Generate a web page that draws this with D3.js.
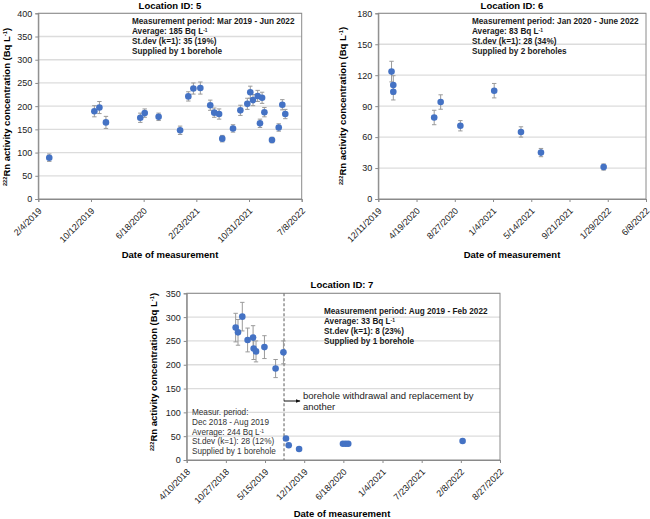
<!DOCTYPE html>
<html>
<head>
<meta charset="utf-8">
<script src="https://cdn.jsdelivr.net/npm/d3@7"></script>
<style>
  body { margin: 0; background: #fff; }
  svg { font-family: "Liberation Sans", Arial, sans-serif; }
</style>
</head>
<body>
<svg id="chart" width="650" height="519"></svg>
<script>
// Location ID: 5
const loc5Dates = ["2019-03-28","2019-10-28","2019-11-21","2019-12-22","2020-06-02","2020-06-23","2020-08-28",
  "2020-12-08","2021-01-16","2021-02-09","2021-03-14","2021-04-30","2021-05-19","2021-06-11","2021-06-26",
  "2021-08-16","2021-09-20","2021-10-23","2021-11-06","2021-11-19","2021-12-11","2021-12-22","2022-01-01",
  "2022-01-12","2022-02-17","2022-03-21","2022-04-07","2022-04-21"];
const loc5Values = [89,189,197,165,175,185,177,148,221,238,239,202,186,183,130,152,191,205,230,213,222,163,218,187,127,154,203,183];
const loc5Errors = [8,12,13,13,10,9,8,9,10,12,13,11,10,11,7,8,11,12,13,12,12,9,12,10,6,8,11,10];
const loc5XTicks = ["2/4/2019","10/12/2019","6/18/2020","2/23/2021","10/31/2021","7/8/2022"];
const loc5YTicks = [0,50,100,150,200,250,300,350,400];
const loc5Notes = ["Measurement period: Mar 2019 - Jun 2022","Average: 185 Bq L","St.dev (k=1): 35 (19%)","Supplied by 1 borehole"];

// Location ID: 6
const loc6Dates = ["2020-01-25","2020-01-31","2020-01-31","2020-06-18","2020-07-10","2020-09-15","2021-01-08","2021-04-09","2021-06-16","2022-01-15"];
const loc6Values = [123.5,110.5,104,79,94,71,105,65,45,31];
const loc6Errors = [10,9,8,7,7,5,7,5,4,3];
const loc6XTicks = ["12/11/2019","4/19/2020","8/27/2020","1/4/2021","5/14/2021","9/21/2021","1/29/2022","6/8/2022"];
const loc6YTicks = [0,30,60,90,120,150,180];
const loc6Notes = ["Measurement period: Jan 2020 - June 2022","Average: 83 Bq L","St.dev (k=1): 28 (34%)","Supplied by 2 boreholes"];

// Location ID: 7
const loc7Dates = ["2018-12-16","2018-12-28","2019-01-19","2019-02-15","2019-03-15","2019-03-18","2019-03-30","2019-05-12",
  "2019-07-08","2019-08-17","2019-08-30","2019-09-13","2019-11-05","2020-06-16","2020-06-30","2020-07-13","2022-02-17"];
const loc7Values = [278,268,301,252,257,234,228,237,192,226,45,31,23,34,34,34,40];
const loc7Errors = [30,27,30,25,25,23,22,24,19,24,0,0,0,0,0,0,0];
const loc7XTicks = ["4/10/2018","10/27/2018","5/15/2019","12/1/2019","6/18/2020","1/4/2021","7/23/2021","2/8/2022","8/27/2022"];
const loc7YTicks = [0,50,100,150,200,250,300,350];
const loc7Break = "2019-08-20";
const loc7Notes = ["Measurement period: Aug 2019 - Feb 2022","Average: 33 Bq L","St.dev (k=1): 8 (23%)","Supplied by 1 borehole"];
const loc7OldNotes = ["Measur. period:","Dec 2018 - Aug 2019","Average: 244 Bq L","St.dev (k=1): 28 (12%)","Supplied by 1 borehole"];
const loc7Arrow = ["borehole withdrawal and replacement by","another"];

const parseDate = d3.utcParse("%Y-%m-%d");
const parseTick = d3.utcParse("%m/%d/%Y");
const svg = d3.select("#chart");

svg.append("defs").append("marker")
  .attr("id", "arrow").attr("viewBox", "0 0 10 10")
  .attr("refX", 9).attr("refY", 5)
  .attr("markerWidth", 5).attr("markerHeight", 5)
  .attr("orient", "auto")
  .append("path").attr("d", "M0,1 L10,5 L0,9 Z").attr("fill", "#111");

// adds a superscript to a text element when a line ends with "Bq L"
function writeLine(sel, str) {
  sel.append("tspan").text(str);
  if (str.endsWith("Bq L")) {
    sel.append("tspan").attr("baseline-shift", "super").attr("font-size", "0.6em").text("-1");
  }
}

function drawPanel(p) {
  const dates = p.dates.map(parseDate);
  const ticks = p.xTicks.map(parseTick);

  const x = d3.scaleUtc()
    .domain([ticks[0], ticks[ticks.length - 1]])
    .range([p.left, p.right]);
  const y = d3.scaleLinear()
    .domain([0, d3.max(p.yTicks)])
    .range([p.bottom, p.top]);

  const g = svg.append("g");

  // gridlines
  g.append("g").selectAll("line")
    .data(p.yTicks.slice(1))
    .join("line")
      .attr("x1", p.left).attr("x2", p.right)
      .attr("y1", d => y(d)).attr("y2", d => y(d))
      .attr("stroke", "#dcdcdc").attr("stroke-width", 1.3);

  // frame
  g.append("rect")
    .attr("x", p.left).attr("y", p.top)
    .attr("width", p.right - p.left).attr("height", p.bottom - p.top)
    .attr("fill", "none").attr("stroke", "#8a8a8a").attr("stroke-width", 1);

  // axes
  const yAxis = g.append("g")
    .attr("transform", `translate(${p.left},0)`)
    .call(d3.axisLeft(y).tickValues(p.yTicks).tickSize(3).tickPadding(3).tickFormat(d3.format("d")));
  yAxis.select(".domain").attr("stroke", "#8a8a8a");
  yAxis.selectAll(".tick line").attr("stroke", "#8a8a8a");
  yAxis.selectAll("text").attr("font-size", 9).attr("fill", "#222").attr("font-family", null);

  const fmt = d3.utcFormat("%-m/%-d/%Y");
  const xAxis = g.append("g")
    .attr("transform", `translate(0,${p.bottom})`)
    .call(d3.axisBottom(x).tickValues(ticks).tickSize(3).tickFormat(fmt));
  xAxis.select(".domain").attr("stroke", "#8a8a8a");
  xAxis.selectAll(".tick line").attr("stroke", "#8a8a8a");
  xAxis.selectAll("text")
    .attr("font-size", 9).attr("fill", "#222").attr("font-family", null)
    .attr("text-anchor", "end")
    .attr("transform", "translate(3.5,12.5) rotate(-45)")
    .attr("x", 0).attr("y", 0).attr("dy", 0);

  // titles
  g.append("text")
    .attr("x", p.titleX).attr("y", p.titleY)
    .attr("text-anchor", "middle").attr("font-size", 9.5).attr("font-weight", "bold")
    .text(p.title);

  g.append("text")
    .attr("x", p.titleX).attr("y", p.xTitleY)
    .attr("text-anchor", "middle").attr("font-size", 9.5).attr("font-weight", "bold")
    .text("Date of measurement");

  const yt = g.append("text")
    .attr("transform", `translate(${p.yTitleX},${p.yTitleY}) rotate(-90)`)
    .attr("text-anchor", "middle").attr("font-size", 9.5).attr("font-weight", "bold");
  yt.append("tspan").attr("baseline-shift", "super").attr("font-size", "0.6em").text("222");
  yt.append("tspan").text("Rn activity concentration (Bq L");
  yt.append("tspan").attr("baseline-shift", "super").attr("font-size", "0.6em").text("-1");
  yt.append("tspan").text(")");

  // break line and arrow
  if (p.breakDate) {
    const bx = x(parseDate(p.breakDate));
    g.append("line")
      .attr("x1", bx).attr("x2", bx).attr("y1", p.top).attr("y2", p.bottom)
      .attr("stroke", "#777").attr("stroke-width", 1.2).attr("stroke-dasharray", "3,2");
    g.append("line")
      .attr("x1", bx).attr("x2", bx + 16).attr("y1", p.arrowY).attr("y2", p.arrowY)
      .attr("stroke", "#111").attr("stroke-width", 1).attr("marker-end", "url(#arrow)");
    g.append("g").selectAll("text")
      .data(p.arrowText)
      .join("text")
        .attr("x", bx + 19).attr("y", (d, i) => p.arrowY - 2.5 + i * 11.5)
        .attr("font-size", 9.5).attr("fill", "#222")
        .text(d => d);
  }

  // error bars
  const pts = dates.map((d, i) => ({date: d, v: p.values[i], e: p.errors[i]}));
  const eb = g.append("g").attr("stroke", "#9a9a9a").attr("stroke-width", 1);
  const withErr = pts.filter(d => d.e > 0);
  eb.selectAll(".v").data(withErr).join("line")
    .attr("x1", d => x(d.date)).attr("x2", d => x(d.date))
    .attr("y1", d => y(d.v - d.e)).attr("y2", d => y(d.v + d.e));
  eb.selectAll(".c1").data(withErr).join("line")
    .attr("x1", d => x(d.date) - 2.2).attr("x2", d => x(d.date) + 2.2)
    .attr("y1", d => y(d.v + d.e)).attr("y2", d => y(d.v + d.e));
  eb.selectAll(".c2").data(withErr).join("line")
    .attr("x1", d => x(d.date) - 2.2).attr("x2", d => x(d.date) + 2.2)
    .attr("y1", d => y(d.v - d.e)).attr("y2", d => y(d.v - d.e));

  // points
  g.append("g").selectAll("circle")
    .data(pts)
    .join("circle")
      .attr("cx", d => x(d.date))
      .attr("cy", d => y(d.v))
      .attr("r", 3.3)
      .attr("fill", "#4472c4");

  // notes
  g.append("g").selectAll("text")
    .data(p.notes)
    .join("text")
      .attr("x", p.notesX).attr("y", (d, i) => p.notesY + i * 10)
      .attr("font-size", 8.2).attr("font-weight", "bold").attr("fill", "#1a1a1a")
      .each(function(d) { writeLine(d3.select(this), d); });

  if (p.oldNotes) {
    g.append("g").selectAll("text")
      .data(p.oldNotes)
      .join("text")
        .attr("x", p.oldNotesX).attr("y", (d, i) => p.oldNotesY + i * 9.8)
        .attr("font-size", 8.2).attr("fill", "#333")
        .each(function(d) { writeLine(d3.select(this), d); });
  }
}

drawPanel({
  dates: loc5Dates, values: loc5Values, errors: loc5Errors, xTicks: loc5XTicks, yTicks: loc5YTicks,
  left: 38.3, right: 301.7, top: 13.3, bottom: 199,
  title: "Location ID: 5", titleX: 170, titleY: 8.5, xTitleY: 257.5, yTitleX: 10, yTitleY: 107,
  notes: loc5Notes, notesX: 132, notesY: 24
});

drawPanel({
  dates: loc6Dates, values: loc6Values, errors: loc6Errors, xTicks: loc6XTicks, yTicks: loc6YTicks,
  left: 378.3, right: 646, top: 13.3, bottom: 199,
  title: "Location ID: 6", titleX: 512, titleY: 8.5, xTitleY: 257.5, yTitleX: 346, yTitleY: 106,
  notes: loc6Notes, notesX: 472, notesY: 24
});

drawPanel({
  dates: loc7Dates, values: loc7Values, errors: loc7Errors, xTicks: loc7XTicks, yTicks: loc7YTicks,
  left: 186.7, right: 500, top: 293.3, bottom: 460,
  title: "Location ID: 7", titleX: 342, titleY: 287.5, xTitleY: 516.5, yTitleX: 157, yTitleY: 372,
  notes: loc7Notes, notesX: 324, notesY: 314,
  oldNotes: loc7OldNotes, oldNotesX: 192, oldNotesY: 415,
  breakDate: loc7Break, arrowText: loc7Arrow, arrowY: 401
});
</script>
</body>
</html>
